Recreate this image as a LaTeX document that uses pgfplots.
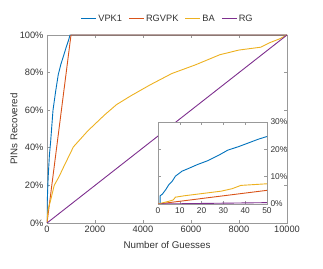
\documentclass[border=0pt]{standalone}
\usepackage{fontspec}
\setmainfont{Liberation Sans}
\usepackage{pgfplots}
\pgfplotsset{compat=1.18}
\definecolor{mblue}{rgb}{0,0.447,0.741}
\definecolor{morange}{rgb}{0.85,0.325,0.098}
\definecolor{myellow}{rgb}{0.929,0.694,0.125}
\definecolor{mpurple}{rgb}{0.494,0.184,0.556}
\definecolor{axgray}{gray}{0.6}
\definecolor{txgray}{gray}{0.2}
\newcommand{\legline}[1]{\textcolor{#1}{\rule[2.8bp]{15bp}{0.9bp}}\hspace{2bp}}
\begin{document}
\begin{tikzpicture}
\path[use as bounding box] (-47bp,-46bp) rectangle (276bp,223bp);
\begin{axis}[
  at={(0,0)}, anchor=south west,
  scale only axis, width=240bp, height=188bp,
  xmin=0, xmax=10000, ymin=0, ymax=100,
  xtick={0,2000,4000,6000,8000,10000},
  ytick={0,20,40,60,80,100},
  scaled x ticks=false,
  /pgf/number format/1000 sep={},
  /pgf/number format/assume math mode=true,
  yticklabel={\pgfmathprintnumber{\tick}\%},
  tick align=inside, major tick length=3bp,
  axis line style={axgray, line width=0.6bp},
  every tick/.style={axgray, line width=0.6bp},
  tick label style={font=\fontsize{9.3}{11}\selectfont, text=txgray},
  label style={font=\fontsize{9.8}{12}\selectfont, text=txgray},
  xlabel={Number of Guesses},
  ylabel={PINs Recovered},
  xlabel style={at={(axis description cs:0.5,0)}, anchor=center, yshift=-22bp},
  ylabel style={at={(axis description cs:0,0.5)}, anchor=center, rotate=0, yshift=33bp},
  legend columns=4,
  legend style={at={(axis description cs:0.5,1)}, anchor=center, yshift=16bp,
    draw=none, fill=none, font=\fontsize{9.3}{11}\selectfont,
    /tikz/every odd column/.append style={column sep=0bp},
    /tikz/every even column/.append style={column sep=3bp}},
  legend image code/.code={},
  every axis plot/.append style={line width=0.9bp},
]
\addplot[color=mblue] coordinates {(0,0) (1,3) (5,7) (10,11) (20,14.4) (30,18) (50,24.7) (100,36) (150,43) (250,60) (360,70) (470,79) (580,84.5) (680,88.5) (800,93.5) (900,97.3) (960,100) (10000,100)};
\addlegendentry{\legline{mblue}\textcolor{txgray}{VPK1}}
\addplot[color=morange] coordinates {(0,0) (1000,100) (10000,100)};
\addlegendentry{\legline{morange}\textcolor{txgray}{RGVPK}}
\addplot[color=myellow] coordinates {(0,0) (8,2.5) (20,3.8) (50,7.4) (150,12) (300,20) (500,24.6) (700,30) (1100,40.5) (1700,49) (2400,57.5) (2900,63) (3500,67.7) (4300,73.5) (5200,79.5) (6200,84.2) (7200,89.5) (8000,92) (8900,93.5) (9300,96) (9700,98) (10000,100)};
\addlegendentry{\legline{myellow}\textcolor{txgray}{BA}}
\addplot[color=mpurple] coordinates {(0,0) (10000,100)};
\addlegendentry{\legline{mpurple}\textcolor{txgray}{RG}}
\end{axis}
\begin{axis}[
  at={(111bp,19bp)}, anchor=south west,
  scale only axis, width=109bp, height=82bp,
  xmin=0, xmax=50, ymin=0, ymax=30,
  xtick={0,10,20,30,40,50},
  ytick={0,10,20,30},
  yticklabel pos=right,
  /pgf/number format/assume math mode=true,
  yticklabel={\pgfmathprintnumber{\tick}\%},
  tick align=inside, major tick length=3bp,
  axis background/.style={fill=white},
  axis line style={axgray, line width=0.6bp},
  every tick/.style={axgray, line width=0.6bp},
  tick label style={font=\fontsize{8.4}{10}\selectfont, text=txgray},
  every axis plot/.append style={line width=0.9bp},
]
\addplot[color=mblue] coordinates {(1,0) (1,3) (2,3.6) (3.5,5.2) (5,7.1) (6.5,8.3) (8,10.2) (9.5,11.1) (11,12) (14,13) (18,14.4) (23,15.9) (28,17.9) (32,19.7) (37,21) (42,22.5) (46,23.7) (50,24.7)};
\addplot[color=morange] coordinates {(0,0) (50,5)};
\addplot[color=myellow] coordinates {(0,0) (5,1) (7,1.5) (8,2.5) (12,3) (19,3.7) (29,4.7) (34,5.6) (38,6.8) (50,7.4)};
\addplot[color=mpurple] coordinates {(0,0) (50,0.5)};
\end{axis}
\end{tikzpicture}
\end{document}
